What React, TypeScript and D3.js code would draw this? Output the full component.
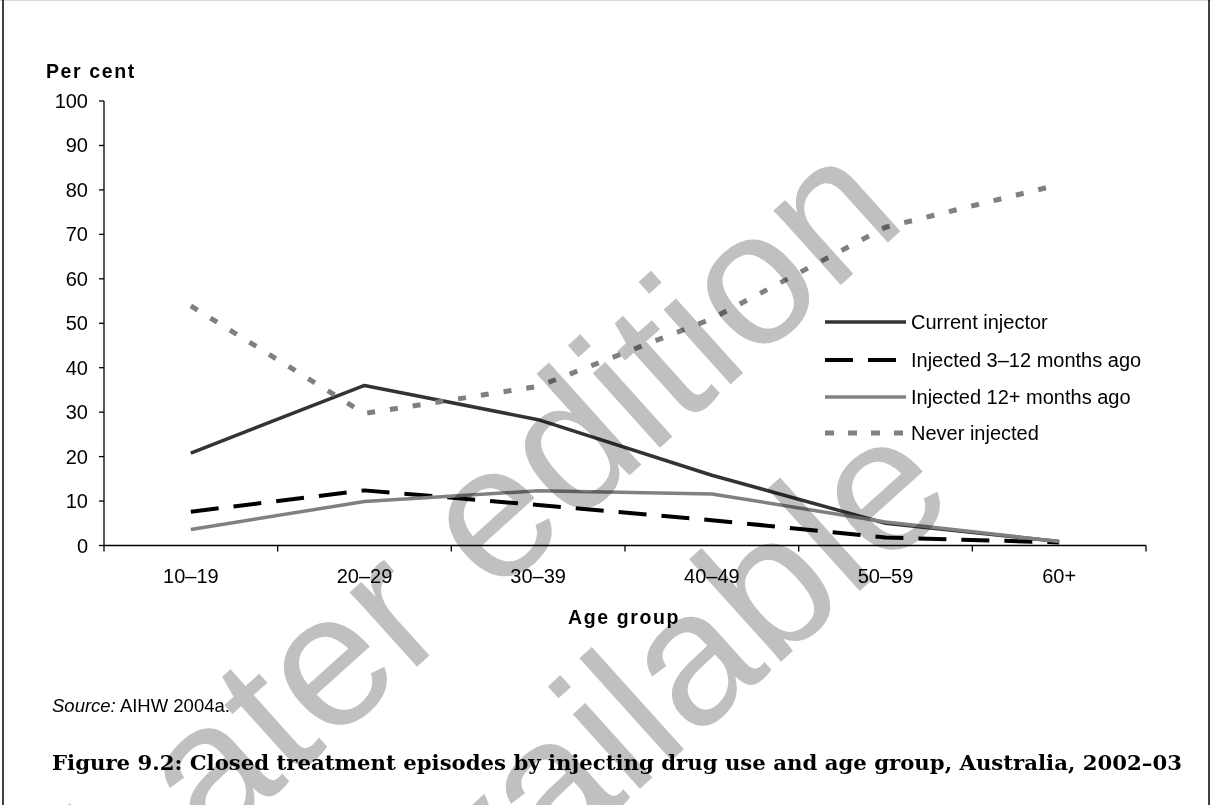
import React from "react";
import * as d3 from "d3";

const categories = ["10–19", "20–29", "30–39", "40–49", "50–59", "60+"];
const currentInjector = [20.8, 36.0, 28.3, 15.8, 5.0, 0.9];
const injected3to12 = [7.6, 12.4, 9.1, 5.7, 1.8, 0.7];
const injected12plus = [3.6, 9.9, 12.3, 11.6, 5.3, 0.9];
const neverInjected = [53.9, 29.7, 35.8, 51.0, 71.6, 81.2];
const yTicks = [0, 10, 20, 30, 40, 50, 60, 70, 80, 90, 100];
const seriesNames = [
  "Current injector",
  "Injected 3–12 months ago",
  "Injected 12+ months ago",
  "Never injected",
];

const W = 1211;
const H = 805;
const left = 104;
const right = 1146;
const top = 101;
const bottom = 545.5;

const styles = [
  { stroke: "#333333", width: 3.5, dash: "none" },
  { stroke: "#000000", width: 4, dash: "28 15" },
  { stroke: "#808080", width: 3.5, dash: "none" },
  { stroke: "#808080", width: 5, dash: "8 15" },
];
const legendDash = ["none", "28 15", "none", "9 14"];

export default function App() {
  const x = d3.scaleBand<string>().domain(categories).range([left, right]);
  const y = d3.scaleLinear().domain([0, 100]).range([bottom, top]);
  const cx = (c: string) => (x(c) as number) + x.bandwidth() / 2;
  const line = d3
    .line<number>()
    .x((_, i) => cx(categories[i]))
    .y((v) => y(v));
  const series = [currentInjector, injected3to12, injected12plus, neverInjected];
  const boundaries = categories.map((c) => x(c) as number).concat([right]);
  const font = "'Liberation Sans', Arial, sans-serif";
  const legendY = [322, 360, 397, 433];

  return (
    <svg
      width={W}
      height={H}
      style={{ position: "absolute", left: 0, top: 0, background: "#fff" }}
    >
      <rect x={0} y={0} width={W} height={H} fill="#fff" />
      <line x1={0} y1={0.5} x2={W} y2={0.5} stroke="#d8d8d8" strokeWidth={1} />
      <line x1={3} y1={0} x2={3} y2={H} stroke="#000" strokeWidth={1.5} />
      <line x1={1209} y1={0} x2={1209} y2={H} stroke="#000" strokeWidth={1.5} />

      {/* y axis */}
      <line x1={left} y1={top} x2={left} y2={bottom} stroke="#000" strokeWidth={1.3} />
      {yTicks.map((t) => (
        <g key={t}>
          <line x1={left - 5} x2={left} y1={y(t)} y2={y(t)} stroke="#000" strokeWidth={1.3} />
          <text
            x={88}
            y={y(t) + 7}
            textAnchor="end"
            fontFamily={font}
            fontSize={20}
            fill="#000"
          >
            {t}
          </text>
        </g>
      ))}
      <text x={46} y={78} fontFamily={font} fontSize={19.5} fontWeight="bold" letterSpacing={1.6}>
        Per cent
      </text>

      {/* x axis */}
      <line x1={left} y1={bottom} x2={right} y2={bottom} stroke="#000" strokeWidth={1.3} />
      {boundaries.map((b, i) => (
        <line key={i} x1={b} x2={b} y1={bottom} y2={bottom + 6} stroke="#000" strokeWidth={1.3} />
      ))}
      {categories.map((c) => (
        <text key={c} x={cx(c)} y={583} textAnchor="middle" fontFamily={font} fontSize={20}>
          {c}
        </text>
      ))}
      <text x={624} y={624} textAnchor="middle" fontFamily={font} fontSize={19.5} fontWeight="bold" letterSpacing={1.6}>
        Age group
      </text>

      {/* series */}
      {series.map((s, i) => (
        <path
          key={i}
          d={line(s) || ""}
          fill="none"
          stroke={styles[i].stroke}
          strokeWidth={styles[i].width}
          strokeDasharray={styles[i].dash}
          strokeLinejoin="round"
        />
      ))}

      {/* legend */}
      {seriesNames.map((n, i) => (
        <g key={n}>
          <line
            x1={825}
            x2={906}
            y1={legendY[i]}
            y2={legendY[i]}
            stroke={styles[i].stroke}
            strokeWidth={styles[i].width}
            strokeDasharray={legendDash[i]}
          />
          <text x={911} y={legendY[i] + 7} fontFamily={font} fontSize={20}>
            {n}
          </text>
        </g>
      ))}

      {/* source and title */}
      <text x={52} y={712} fontFamily={font} fontSize={18.5}>
        <tspan fontStyle="italic">Source:</tspan> AIHW 2004a.
      </text>
      <text
        x={52}
        y={770}
        fontFamily="'DejaVu Serif', 'Liberation Serif', serif"
        fontSize={21}
        fontWeight="bold"
        textLength={1130}
        lengthAdjust="spacingAndGlyphs"
      >
        Figure 9.2: Closed treatment episodes by injecting drug use and age group, Australia, 2002–03
      </text>

      {/* watermark */}
      <g
        transform="translate(521,573) rotate(-42)"
        style={{ mixBlendMode: "multiply" }}
        fill="#c0c0c0"
        fontFamily={font}
        fontSize={190}
        textAnchor="middle"
      >
        <text x={0} y={0}>Later edition</text>
        <text x={0} y={240}>available</text>
      </g>
    </svg>
  );
}
